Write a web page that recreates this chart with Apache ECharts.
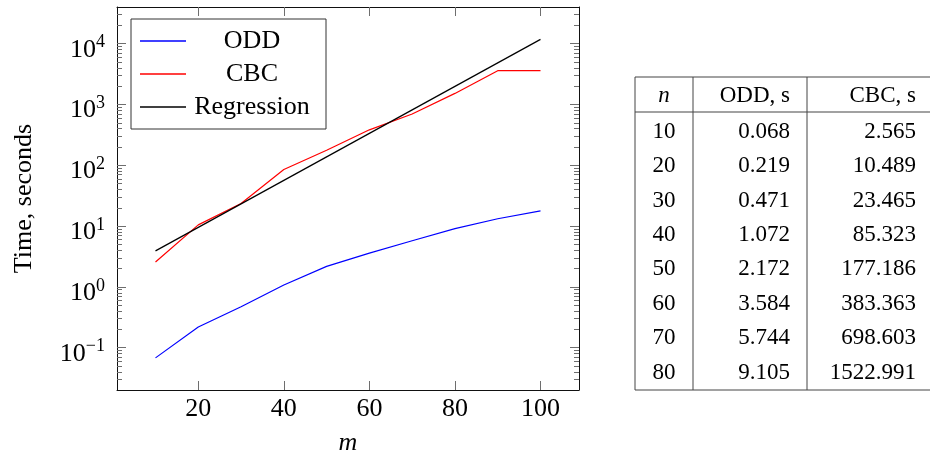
<!DOCTYPE html>
<html>
<head>
<meta charset="utf-8">
<script src="https://cdn.jsdelivr.net/npm/echarts@6/dist/echarts.min.js"></script>
<style>html,body{margin:0;padding:0;background:#fff}#c{width:931px;height:458px}</style>
</head>
<body>
<div id="c"></div>
<script>
// ---- data ----
const mValues = [10, 20, 30, 40, 50, 60, 70, 80, 90, 100];
const oddTimes = [0.068, 0.219, 0.471, 1.072, 2.172, 3.584, 5.744, 9.105, 13.2, 17.8];
const cbcTimes = [2.565, 10.489, 23.465, 85.323, 177.186, 383.363, 698.603, 1522.991, 3600, 3600];
const regM = [10, 100];
const regTimes = [3.91, 11800];
const xTickLabels = [20, 40, 60, 80, 100];
const yTickLabels = [0.1, 1, 10, 100, 1000, 10000];
const yMinorTicks = [0.03,0.04,0.05,0.06,0.07,0.08,0.09,
  0.2,0.3,0.4,0.5,0.6,0.7,0.8,0.9,
  2,3,4,5,6,7,8,9,
  20,30,40,50,60,70,80,90,
  200,300,400,500,600,700,800,900,
  2000,3000,4000,5000,6000,7000,8000,9000,
  20000,30000];
const tableRows = 8;
const tableHeader = ['n', 'ODD, s', 'CBC, s'];

// ---- layout ----
const FONT = 'Liberation Serif';
const X_MIN = 1, X_MAX = 109;
const Y_MIN = Math.pow(10, -1.696), Y_MAX = Math.pow(10, 4.604);
const tickColor = '#6e6e6e';

function pair(xs, ys) { return xs.map((x, i) => [x, ys[i]]); }

function supLabel(v) {
  const e = Math.round(Math.log10(v));
  const es = e < 0 ? '\u2212' + (-e) : String(e);
  return '{b|10}{s|' + es + '}';
}

const baseX = {
  type: 'value', min: X_MIN, max: X_MAX,
  splitLine: { show: false },
  axisLine: { show: true, onZero: false, lineStyle: { color: '#111', width: 1 } },
  axisTick: { show: true, inside: true, length: 9, customValues: xTickLabels, lineStyle: { color: tickColor, width: 1 } }
};
const baseY = {
  type: 'log', logBase: 10, min: Y_MIN, max: Y_MAX,
  splitLine: { show: false }
};

const xAxis = [
  Object.assign({}, baseX, {
    position: 'bottom',
    name: 'm', nameLocation: 'middle', nameGap: 40,
    nameTextStyle: { fontFamily: FONT, fontSize: 26, fontStyle: 'italic', color: '#000' },
    axisLabel: { show: true, customValues: xTickLabels, margin: 6, fontFamily: FONT, fontSize: 26, color: '#000' }
  }),
  Object.assign({}, baseX, { position: 'top', axisLabel: { show: false } })
];

const yAxis = [
  Object.assign({}, baseY, {
    position: 'left',
    name: 'Time, seconds', nameLocation: 'middle', nameGap: 80,
    nameTextStyle: { fontFamily: FONT, fontSize: 26, color: '#000' },
    axisLine: { show: true, lineStyle: { color: '#111', width: 1 } },
    axisTick: { show: true, inside: true, length: 9, customValues: yTickLabels, lineStyle: { color: tickColor, width: 1 } },
    axisLabel: {
      show: true, customValues: yTickLabels, margin: 12, padding: [12, 0, 0, 0],
      formatter: supLabel,
      rich: {
        b: { fontFamily: FONT, fontSize: 26, lineHeight: 32, color: '#000' },
        s: { fontFamily: FONT, fontSize: 18, lineHeight: 15, verticalAlign: 'top', color: '#000' }
      }
    }
  }),
  Object.assign({}, baseY, {
    position: 'left',
    axisLine: { show: false },
    axisTick: { show: true, inside: true, length: 5, customValues: yMinorTicks, lineStyle: { color: tickColor, width: 1 } },
    axisLabel: { show: false }
  }),
  Object.assign({}, baseY, {
    position: 'right',
    axisLine: { show: true, lineStyle: { color: '#111', width: 1 } },
    axisTick: { show: true, inside: true, length: 9, customValues: yTickLabels, lineStyle: { color: tickColor, width: 1 } },
    axisLabel: { show: false }
  }),
  Object.assign({}, baseY, {
    position: 'right',
    axisLine: { show: false },
    axisTick: { show: true, inside: true, length: 5, customValues: yMinorTicks, lineStyle: { color: tickColor, width: 1 } },
    axisLabel: { show: false }
  })
];

// ---- table (graphic) ----
const tL = 635, tR = 930, tTop = 77, tHead = 112, tBot = 390;
const c1 = 693, c2 = 807;
const nCenter = 664, oddRight = 790, cbcRight = 916;
const headY = 96, row0Y = 131.7, rowStep = 34.4;
const TF = 23;
const graphics = [];
function hline(y, x1, x2, w) {
  graphics.push({ type: 'line', shape: { x1: x1, y1: y, x2: x2, y2: y }, style: { stroke: '#444', lineWidth: w } });
}
function vline(x, y1, y2, w) {
  graphics.push({ type: 'line', shape: { x1: x, y1: y1, x2: x, y2: y2 }, style: { stroke: '#444', lineWidth: w } });
}
hline(tTop, tL, tR, 1.2);
hline(tHead, tL, tR, 1.2);
hline(tBot, tL, tR, 1);
vline(tL, tTop, tBot, 1);
vline(c1, tTop, tBot, 1);
vline(c2, tTop, tBot, 1);
function txt(s, x, y, align, italic) {
  graphics.push({ type: 'text', style: { text: s, x: x, y: y, align: align, verticalAlign: 'middle',
    fontFamily: FONT, fontSize: TF, fontStyle: italic ? 'italic' : 'normal', fill: '#000' } });
}
txt(tableHeader[0], nCenter, headY, 'center', true);
txt(tableHeader[1], oddRight, headY, 'right');
txt(tableHeader[2], cbcRight, headY, 'right');
for (let i = 0; i < tableRows; i++) {
  const y = row0Y + rowStep * i;
  txt(String(mValues[i]), nCenter, y, 'center');
  txt(oddTimes[i].toFixed(3), oddRight, y, 'right');
  txt(cbcTimes[i].toFixed(3), cbcRight, y, 'right');
}

const chart = echarts.init(document.getElementById('c'), null, { renderer: 'canvas' });
chart.setOption({
  animation: false,
  backgroundColor: '#fff',
  grid: { left: 117, right: 352, top: 7, bottom: 68, containLabel: false, outerBoundsMode: 'none' },
  legend: {
    orient: 'vertical', left: 131, top: 19,
    data: [
      { name: 'ODD', icon: 'rect' },
      { name: 'CBC', icon: 'rect' },
      { name: 'Regression', icon: 'rect' }
    ],
    itemWidth: 46, itemHeight: 1.3, itemGap: 7,
    padding: [9, 13, 9, 9],
    backgroundColor: '#fff', borderColor: '#333', borderWidth: 1, borderRadius: 0,
    formatter: function (n) { return '{c|' + n + '}'; },
    textStyle: {
      fontFamily: FONT, fontSize: 26, color: '#000',
      rich: { c: { width: 122, align: 'center', fontFamily: FONT, fontSize: 26, lineHeight: 26, color: '#000' } }
    }
  },
  xAxis: xAxis,
  yAxis: yAxis,
  series: [
    { name: 'ODD', type: 'line', data: pair(mValues, oddTimes), symbol: 'none', lineStyle: { color: '#0000ff', width: 1.2 }, itemStyle: { color: '#0000ff' }, z: 3 },
    { name: 'CBC', type: 'line', data: pair(mValues, cbcTimes), symbol: 'none', lineStyle: { color: '#ff0000', width: 1.2 }, itemStyle: { color: '#ff0000' }, z: 3 },
    { name: 'Regression', type: 'line', data: pair(regM, regTimes), symbol: 'none', lineStyle: { color: '#000', width: 1.2 }, itemStyle: { color: '#000' }, z: 3 }
  ],
  graphic: graphics
});
</script>
</body>
</html>
